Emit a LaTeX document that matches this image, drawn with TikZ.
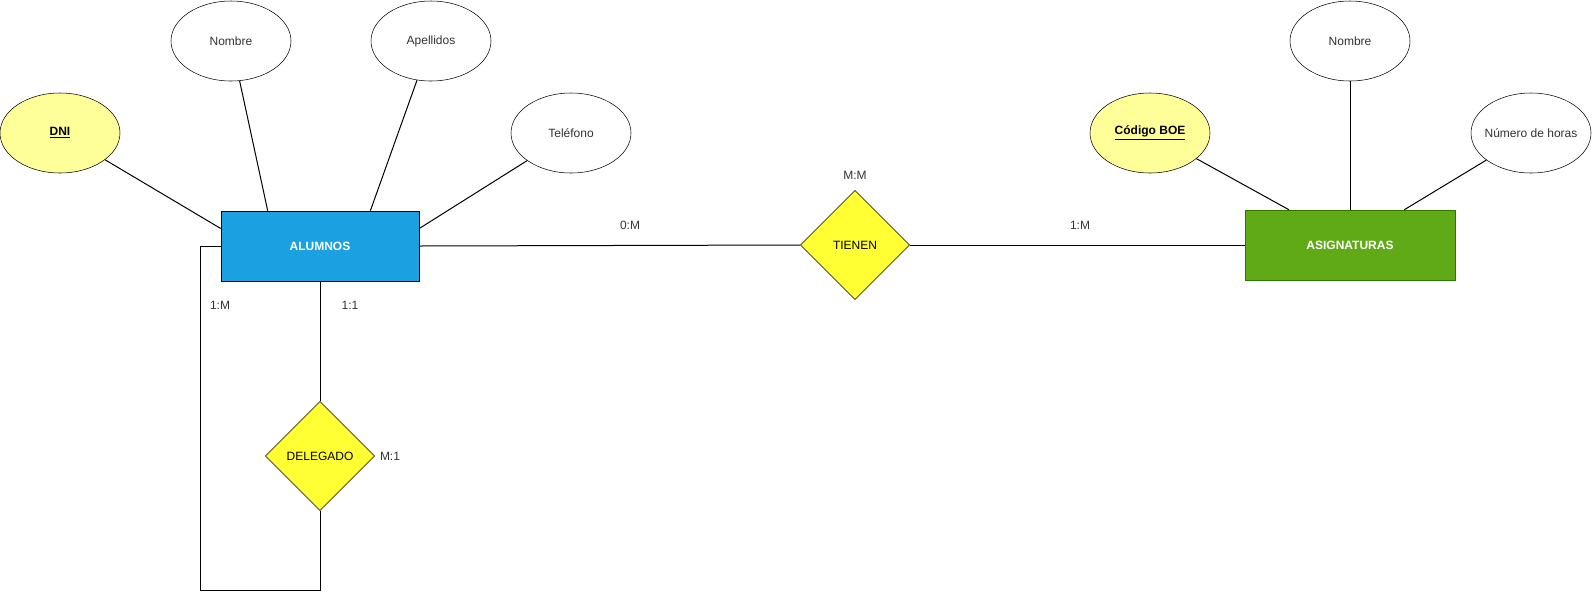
\documentclass[tikz,border=0pt]{standalone}
\usepackage{fontspec}
\setmainfont{Liberation Sans}
\usetikzlibrary{shapes.geometric}
\definecolor{alublue}{HTML}{1BA1E2}
\definecolor{asigreen}{HTML}{60A917}
\definecolor{asiedge}{HTML}{2D7600}
\definecolor{keyyellow}{HTML}{FFFF99}
\definecolor{relyellow}{HTML}{FFFF33}
\definecolor{labelgray}{HTML}{333333}
\begin{document}
\begin{tikzpicture}[x=0.75pt,y=-0.75pt,
    font=\fontsize{9}{11}\selectfont,
    attr/.style={draw,ellipse,fill=white,minimum width=90pt,minimum height=60pt,inner sep=0pt,inner xsep=-12pt,text=labelgray},
    keyattr/.style={attr,fill=keyyellow,text=black,font=\fontsize{9}{11}\selectfont\bfseries},
    entity/.style={draw,rectangle,text=white,minimum height=52.5pt,inner sep=0pt,font=\fontsize{9}{11}\selectfont\bfseries},
    relation/.style={draw,diamond,fill=relyellow,minimum width=82pt,minimum height=82pt,inner sep=0pt},
    card/.style={text=labelgray},
    link/.style={draw=black,line width=0.75pt}]
            \useasboundingbox (0,0) rectangle (1592,594);

            % entities
            \node[entity,fill=alublue,minimum width=148.5pt] (alumnos) at (320,246) {ALUMNOS};
            \node[entity,fill=asigreen,draw=asiedge,minimum width=157.5pt] (asignaturas) at (1350,245) {ASIGNATURAS};

            % attributes
            \node[keyattr] (dni)       at (  60,133) {\underline{DNI}};
            \node[attr]    (nombrealu) at ( 231, 41) {Nombre};
            \node[attr]    (apellidos) at ( 431, 41) {Apellidos};
            \node[attr]    (telefono)  at ( 571,133) {Teléfono};
            \node[keyattr] (codigo)    at (1150,133) {\underline{Código BOE}};
            \node[attr]    (nombreasi) at (1350, 41) {Nombre};
            \node[attr]    (horas)     at (1531,133) {Número de horas};

            % relations
            \node[relation] (tienen)   at (855,245) {TIENEN};
            \node[relation] (delegado) at (320,456) {DELEGADO};

            \draw[link] (dni)       -- (alumnos.170);
            \draw[link] (nombrealu) -- (alumnos.146);
            \draw[link] (apellidos) -- (alumnos.35);
            \draw[link] (telefono)  -- (alumnos.10);
            \draw[link] (codigo)    -- (asignaturas.150);
            \draw[link] (nombreasi) -- (asignaturas.north);
            \draw[link] (horas)     -- (asignaturas.33);

            \draw[link] (alumnos.east) -- (tienen.west);
            \draw[link] (tienen.east)  -- (asignaturas.west);
            \draw[link] (alumnos.south) -- (delegado.north);
            \coordinate (loopcorner) at (200,590);
            \draw[link] (alumnos.west) -| (loopcorner) -| (delegado.south);

            % cardinalities
            \node[card] (cardalu)  at ( 630,225) {0:M};
            \node[card] (cardasi)  at (1080,225) {1:M};
            \node[card] (cardtien) at ( 855,175) {M:M};
            \node[card] (cardloop) at ( 220,305) {1:M};
            \node[card] (cardsub)  at ( 350,305) {1:1};
            \node[card] (carddel)  at ( 390,456) {M:1};
        \end{tikzpicture}
\end{document}
